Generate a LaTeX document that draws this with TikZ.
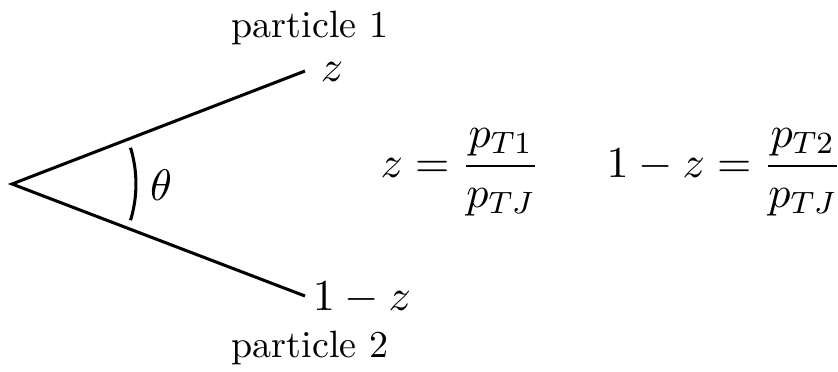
\documentclass[tikz,border=0pt]{standalone}
\usepackage{amsmath}
\usepackage{fix-cm}
\begin{document}
\begin{tikzpicture}[x=0.263pt,y=0.263pt,
  leg/.style={line width=0.8pt},
  lbl/.style={inner sep=0pt},
  mth/.style={inner sep=0pt,font=\fontsize{11.6}{14}\selectfont}]
\useasboundingbox (0,0) rectangle (838,371);
\coordinate (a) at (12,187);
\coordinate (e1) at (305,300);
\coordinate (e2) at (305,75);
\draw[leg] (e1) -- (a) -- (e2);
\draw[leg] ([shift={(17:32.6pt)}]a) arc[start angle=17,end angle=-17,radius=32.6pt];
\node[mth] (th) at (161,186) {$\theta$};
\node[mth,anchor=west] (z) at (320,299) {$z$};
\node[mth,anchor=west] (omz) at (312,73) {$1-z$};
\node[lbl] (p1) at (310,343) {particle 1};
\node[lbl] (p2) at (310,23) {particle 2};
\node[mth] (f1) at (460,199) {$\displaystyle z=\frac{p_{T1}}{p_{TJ}}$};
\node[mth] (f2) at (724,199) {$\displaystyle 1-z=\frac{p_{T2}}{p_{TJ}}$};
\end{tikzpicture}
\end{document}
